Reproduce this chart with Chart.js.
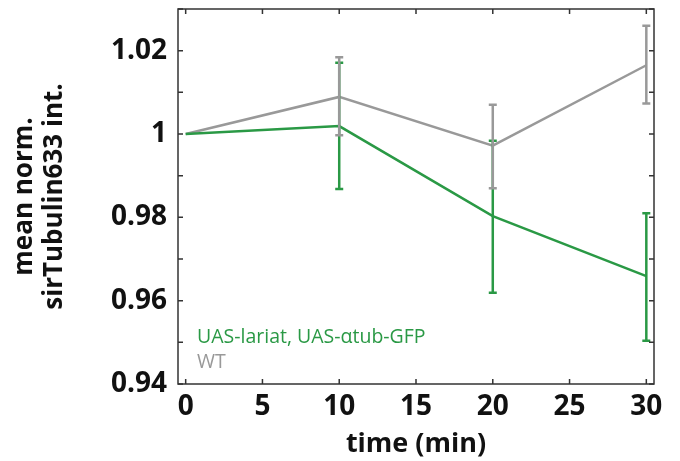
<!DOCTYPE html>
<html><head><meta charset="utf-8">
<script src="https://cdn.jsdelivr.net/npm/chart.js@4/dist/chart.umd.min.js"></script>
<style>html,body{margin:0;padding:0;background:#fff;}#wrap{width:680px;height:461px;}</style>
</head><body><div id="wrap"><canvas id="c" width="680" height="461"></canvas></div>
<script>
const times = [0, 10, 20, 30];
const seriesNames = ['UAS-lariat, UAS-\u03b1tub-GFP', 'WT'];
const lariatMean = [1.0, 1.0019, 0.9803, 0.9659];
const lariatLow  = [null, 0.9868, 0.9619, 0.9504];
const lariatHigh = [null, 1.0171, 0.9984, 0.9810];
const wtMean = [1.0, 1.0089, 0.9972, 1.0165];
const wtLow  = [null, 0.9997, 0.9870, 1.0073];
const wtHigh = [null, 1.0184, 1.0070, 1.0260];
const xTicks = [0, 5, 10, 15, 20, 25, 30];
const yTicks = [0.94, 0.95, 0.96, 0.97, 0.98, 0.99, 1.0, 1.01, 1.02, 1.03];
const yLabeled = [0.94, 0.96, 0.98, 1.0, 1.02];
const xTitle = 'time (min)';
const yTitle = ['mean norm.', 'sirTubulin633 int.'];

const GREEN = '#2a9945';
const GRAY = '#999999';
const FONT = "'Open Sans', 'Noto Sans', sans-serif";

const pts = (arr) => times.map((t, i) => ({x: t, y: arr[i]}));

const errPlugin = {
  id: 'errbars',
  afterDatasetsDraw(chart) {
    const ctx = chart.ctx, xs = chart.scales.x, ys = chart.scales.y;
    chart.data.datasets.forEach(ds => {
      ctx.save();
      ctx.strokeStyle = ds.borderColor; ctx.lineWidth = 2.5;
      times.forEach((t, i) => {
        if (ds.errLow[i] == null) return;
        const px = xs.getPixelForValue(t);
        const y1 = ys.getPixelForValue(ds.errLow[i]);
        const y2 = ys.getPixelForValue(ds.errHigh[i]);
        ctx.beginPath();
        ctx.moveTo(px, y1); ctx.lineTo(px, y2);
        ctx.moveTo(px - 4, y1); ctx.lineTo(px + 4, y1);
        ctx.moveTo(px - 4, y2); ctx.lineTo(px + 4, y2);
        ctx.stroke();
      });
      ctx.restore();
    });
  }
};

const framePlugin = {
  id: 'frame',
  afterDraw(chart) {
    const ctx = chart.ctx, a = chart.chartArea, xs = chart.scales.x, ys = chart.scales.y;
    ctx.save();
    ctx.strokeStyle = '#333'; ctx.lineWidth = 1.5;
    ctx.strokeRect(a.left, a.top, a.right - a.left, a.bottom - a.top);
    ctx.beginPath();
    const L = 5;
    xTicks.forEach(v => {
      const p = xs.getPixelForValue(v);
      ctx.moveTo(p, a.bottom); ctx.lineTo(p, a.bottom - L);
      ctx.moveTo(p, a.top); ctx.lineTo(p, a.top + L);
    });
    yTicks.forEach(v => {
      const p = ys.getPixelForValue(v);
      ctx.moveTo(a.left, p); ctx.lineTo(a.left + L, p);
      ctx.moveTo(a.right, p); ctx.lineTo(a.right - L, p);
    });
    ctx.stroke();
    // legend
    ctx.font = "19.5px " + FONT;
    ctx.textBaseline = 'middle';
    ctx.fillStyle = GREEN;
    ctx.fillText(seriesNames[0], a.left + 19, a.bottom - 47);
    ctx.fillStyle = GRAY;
    ctx.fillText(seriesNames[1], a.left + 19, a.bottom - 22);
    ctx.restore();
  }
};

new Chart(document.getElementById('c'), {
  type: 'line',
  data: {
    datasets: [
      {label: seriesNames[0], data: pts(lariatMean), borderColor: GREEN, backgroundColor: GREEN,
       borderWidth: 2.5, pointRadius: 0, tension: 0, errLow: lariatLow, errHigh: lariatHigh},
      {label: seriesNames[1], data: pts(wtMean), borderColor: GRAY, backgroundColor: GRAY,
       borderWidth: 2.5, pointRadius: 0, tension: 0, errLow: wtLow, errHigh: wtHigh}
    ]
  },
  options: {
    responsive: false, animation: false,
    layout: {padding: {top: 9, right: 26, left: 0, bottom: 0}},
    plugins: {legend: {display: false}, tooltip: {enabled: false}},
    scales: {
      x: {
        type: 'linear', min: -0.5, max: 30.5,
        afterBuildTicks: s => { s.ticks = xTicks.map(v => ({value: v})); },
        afterFit: s => { s.height = 77; s.paddingLeft = 0; s.paddingRight = 0; },
        grid: {display: false, drawTicks: false}, border: {display: false},
        ticks: {color: '#111', font: {family: FONT, size: 28, weight: '700'}, padding: 6, maxRotation: 0},
        title: {display: true, text: xTitle, color: '#111', font: {family: FONT, size: 27, weight: '700'}, padding: {top: -6, bottom: 0}}
      },
      y: {
        type: 'linear', min: 0.94, max: 1.03,
        afterBuildTicks: s => { s.ticks = yTicks.map(v => ({value: v})); },
        afterFit: s => { s.width = 178; s.paddingTop = 0; s.paddingBottom = 0; },
        grid: {display: false, drawTicks: false}, border: {display: false},
        ticks: {color: '#111', font: {family: FONT, size: 28, weight: '700'}, padding: 11,
          callback: v => yLabeled.some(l => Math.abs(l - v) < 1e-9) ? String(+v.toFixed(2)) : ''},
        title: {display: true, text: yTitle, color: '#111', font: {family: FONT, size: 26, weight: '700', lineHeight: 1.15}, padding: {top: 10, bottom: 0}}
      }
    }
  },
  plugins: [errPlugin, framePlugin]
});
</script>
</body></html>
